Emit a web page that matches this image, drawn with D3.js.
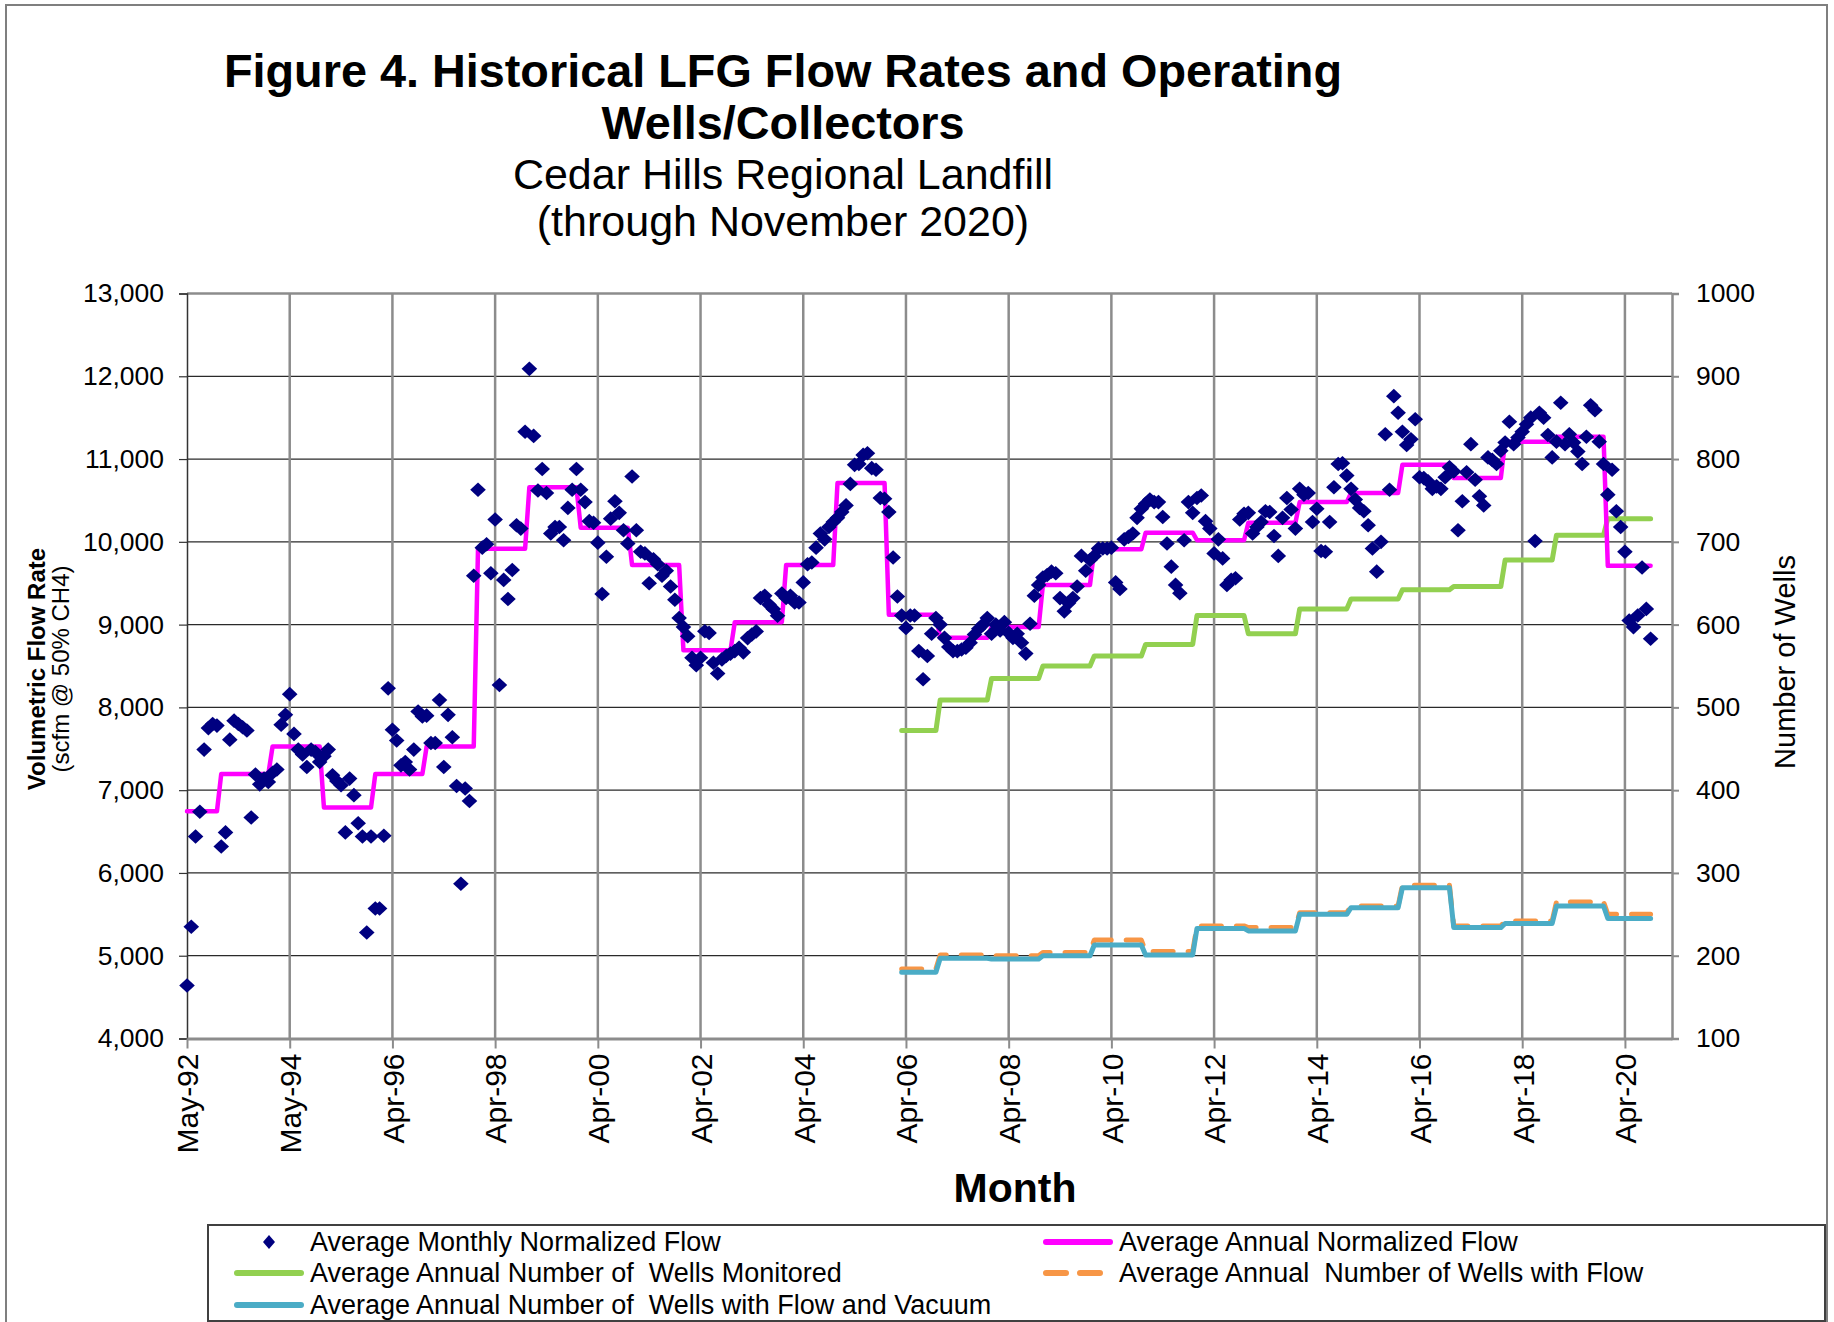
<!DOCTYPE html>
<html>
<head>
<meta charset="utf-8">
<script src="https://cdn.jsdelivr.net/npm/d3@7"></script>
<style>
  body { margin: 0; background: #fff; }
  svg { font-family: "Liberation Sans", Arial, sans-serif; }
</style>
</head>
<body>
<div id="chart-area"></div>
<script>
// monthly normalized flow (scfm), one value per month from May-92 to Nov-20
const monthlyFlow = [
  4640, 5350, 6440, 6740, 7490, 7750, 7800, 7780,
  6320, 6490, 7610, 7840, 7800, 7760, 7720, 6670, 7190, 7070, 7140, 7100,
  7210, 7250, 7790, 7910, 8160, 7680, 7490, 7430, 7280, 7490, 7460, 7340,
  7410, 7490, 7180, 7110, 7060, 6490, 7140, 6940, 6600, 6440, 5280, 6440,
  5570, 5570, 6450, 8230, 7730, 7600, 7300, 7340, 7250, 7490, 7950, 7890,
  7900, 7570, 7570, 8090, 7280, 7910, 7640, 7050, 5870, 7020, 6870, 9590,
  10630, 9930, 9970, 9620, 10270, 8270, 9540, 9310, 9660, 10200, 10160, 11330,
  12090, 11280, 10620, 10880, 10590, 10100, 10180, 10180, 10020, 10410, 10630, 10880,
  10630, 10480, 10250, 10230, 9990, 9370, 9820, 10280, 10490, 10350, 10140, 9980,
  10790, 10140, 9880, 9860, 9500, 9790, 9730, 9590, 9650, 9460, 9300, 9080,
  8970, 8860, 8600, 8510, 8600, 8920, 8900, 8540, 8410, 8580, 8620, 8650,
  8680, 8720, 8665, 8837, 8880, 8918, 9322, 9349, 9242, 9188, 9107, 9375,
  9322, 9349, 9268, 9268, 9510, 9730, 9750, 9930, 10100, 10030, 10180, 10240,
  10290, 10360, 10440, 10700, 10930, 10940, 11050, 11070, 10890, 10870, 10530, 10520,
  10360, 9810, 9340, 9110, 8960, 9110, 9110, 8680, 8340, 8620, 8890, 9080,
  9000, 8840, 8730, 8680, 8680, 8700, 8720, 8780, 8880, 8950, 9000, 9080,
  8890, 9000, 8930, 9030, 8900, 8840, 8890, 8780, 8650, 9010, 9350, 9480,
  9570, 9600, 9640, 9620, 9320, 9160, 9260, 9320, 9460, 9830, 9650, 9780,
  9830, 9920, 9920, 9920, 9930, 9510, 9430, 10030, 10060, 10100, 10290, 10400,
  10460, 10510, 10480, 10480, 10300, 9980, 9700, 9480, 9380, 10020, 10480, 10350,
  10530, 10560, 10250, 10160, 9860, 10030, 9800, 9480, 9540, 9560, 10270, 10340,
  10350, 10100, 10180, 10240, 10370, 10360, 10070, 9830, 10290, 10530, 10390, 10160,
  10640, 10570, 10590, 10240, 10400, 9890, 9880, 10240, 10660, 10940, 10950, 10800,
  10640, 10510, 10410, 10370, 10200, 9920, 9640, 10000, 11300, 10630, 11760, 11560,
  11330, 11170, 11240, 11480, 10780, 10770, 10730, 10640, 10670, 10640, 10780, 10900,
  10850, 10140, 10490, 10840, 11180, 10750, 10550, 10440, 11020, 10990, 10940, 11100,
  11200, 11450, 11180, 11260, 11330, 11420, 11500, 10010, 11560, 11500, 11290, 11020,
  11210, 11680, 11180, 11300, 11200, 11090, 10940, 11270, 11650, 11590, 11210, 10940,
  10570, 10870, 10370, 10180, 9880, 9050, 8970, 9110, 9690, 9190, 8830
]
const flowStart = "May-92"

// annual averages
const annualYears = [1992, 1993, 1994, 1995, 1996, 1997, 1998, 1999, 2000, 2001,
  2002, 2003, 2004, 2005, 2006, 2007, 2008, 2009, 2010, 2011,
  2012, 2013, 2014, 2015, 2016, 2017, 2018, 2019, 2020]
const annualFlow = [6745, 7195, 7528, 6790, 7195, 7528, 9915, 10660, 10170, 9720,
  8690, 9030, 9720, 10710, 9120, 8840, 8970, 9480, 9910, 10110,
  10020, 10230, 10480, 10590, 10930, 10770, 11210, 11270, 9710]

const wellsStart = "Apr-06"
const wellYears = [2006, 2007, 2008, 2009, 2010, 2011, 2012, 2013, 2014, 2015, 2016, 2017, 2018, 2019, 2020]
const wellsMonitored = [472, 509, 535, 550, 562, 576, 611, 589, 619, 631, 642, 646, 678, 708, 728]
const wellsWithFlow = [184, 201, 200, 204, 219, 205, 236, 234, 252, 260, 285, 236, 242, 265, 250]
const wellsFlowVacuum = [180, 197, 196, 200, 213, 201, 233, 230, 250, 258, 282, 234, 239, 260, 245]

// axis labels
const xTickLabels = ["May-92", "May-94", "Apr-96", "Apr-98", "Apr-00", "Apr-02", "Apr-04", "Apr-06",
  "Apr-08", "Apr-10", "Apr-12", "Apr-14", "Apr-16", "Apr-18", "Apr-20"]
const xTickEvery = 24
const xCategoryCount = 347
const leftTicks = [4000, 5000, 6000, 7000, 8000, 9000, 10000, 11000, 12000, 13000]
const rightTicks = [100, 200, 300, 400, 500, 600, 700, 800, 900, 1000]

const WIDTH = 1834
const HEIGHT = 1322
const PLOT = { LEFT: 187, RIGHT: 1672, TOP: 293.5, BOTTOM: 1038.5 }
const FONT_TICK = 26.5

const parseMonth = d3.timeParse("%b-%y")
const month0 = parseMonth(flowStart)
const lastIdx = monthlyFlow.length - 1
function monthIndex(date) { return d3.timeMonth.count(month0, date) }

const svg = d3.select("#chart-area").append("svg")
  .attr("width", WIDTH)
  .attr("height", HEIGHT)

svg.append("rect")
  .attr("width", WIDTH).attr("height", HEIGHT)
  .attr("fill", "#fff")

// outer frame
svg.append("rect")
  .attr("x", 6).attr("y", 5)
  .attr("width", 1821).attr("height", 1330)
  .attr("fill", "none")
  .attr("stroke", "#7f7f7f")
  .attr("stroke-width", 2)

const x = d3.scaleLinear()
  .domain([0, xCategoryCount])
  .range([PLOT.LEFT, PLOT.RIGHT])

const y = d3.scaleLinear()
  .domain([4000, 13000])
  .range([PLOT.BOTTOM, PLOT.TOP])

const y2 = d3.scaleLinear()
  .domain([100, 1000])
  .range([PLOT.BOTTOM, PLOT.TOP])

// horizontal gridlines
svg.append("g")
  .selectAll("line")
  .data(leftTicks.slice(1))
  .enter().append("line")
    .attr("x1", PLOT.LEFT).attr("x2", PLOT.RIGHT)
    .attr("y1", function(d) { return y(d) })
    .attr("y2", function(d) { return y(d) })
    .attr("stroke", d => d === 13000 ? "#8c8c8c" : "#2a2a2a")
    .attr("stroke-width", d => d === 13000 ? 2.5 : 1.2)

// vertical gridlines
const xTickValues = xTickLabels.map((d, i) => i * xTickEvery)
svg.append("g")
  .selectAll("line")
  .data(xTickValues.slice(1))
  .enter().append("line")
    .attr("x1", d => x(d)).attr("x2", d => x(d))
    .attr("y1", PLOT.TOP).attr("y2", PLOT.BOTTOM)
    .attr("stroke", "#8c8c8c")
    .attr("stroke-width", 2.5)

// left axis
const yAxisCall = d3.axisLeft(y)
  .tickValues(leftTicks)
  .tickFormat(d3.format(","))
  .tickSize(8)
  .tickPadding(15)
const gy = svg.append("g")
  .attr("transform", "translate(" + PLOT.LEFT + ",0)")
  .call(yAxisCall)
gy.select(".domain").attr("stroke", "#333").attr("stroke-width", 1.5)
gy.selectAll(".tick line").attr("stroke", "#333").attr("stroke-width", 1.2)
gy.selectAll("text").attr("font-size", FONT_TICK + "px").attr("fill", "#000")
  .attr("font-family", "Liberation Sans, Arial, sans-serif")

// right axis
const y2AxisCall = d3.axisRight(y2)
  .tickValues(rightTicks)
  .tickFormat(d3.format("d"))
  .tickSize(7)
  .tickPadding(17)
const gy2 = svg.append("g")
  .attr("transform", "translate(" + PLOT.RIGHT + ",0)")
  .call(y2AxisCall)
gy2.select(".domain").attr("stroke", "#8c8c8c").attr("stroke-width", 2.5)
gy2.selectAll(".tick line").attr("stroke", "#8c8c8c").attr("stroke-width", 2)
gy2.selectAll("text").attr("font-size", FONT_TICK + "px").attr("fill", "#000")
  .attr("font-family", "Liberation Sans, Arial, sans-serif")

// bottom axis
const xAxisCall = d3.axisBottom(x)
  .tickValues(xTickValues)
  .tickFormat((d, i) => xTickLabels[i])
  .tickSize(10)
  .tickSizeOuter(0)
const gx = svg.append("g")
  .attr("transform", "translate(0," + PLOT.BOTTOM + ")")
  .call(xAxisCall)
gx.select(".domain").attr("stroke", "#8c8c8c").attr("stroke-width", 3)
gx.selectAll(".tick line").attr("stroke", "#8c8c8c").attr("stroke-width", 2)
gx.selectAll("text")
  .attr("font-size", "30px")
  .attr("fill", "#000")
  .attr("font-family", "Liberation Sans, Arial, sans-serif")
  .attr("text-anchor", "end")
  .attr("transform", "rotate(-90)")
  .attr("x", -15)
  .attr("y", 0)
  .attr("dy", "0.36em")

// annual step series
function annualPoints(years, values, firstIdx) {
  const pts = []
  years.forEach(function(yr, i) {
    const s = Math.max(firstIdx, monthIndex(new Date(yr, 0, 1)))
    const e = Math.min(lastIdx, monthIndex(new Date(yr, 11, 1)))
    pts.push([s, values[i]])
    pts.push([e, values[i]])
  })
  return pts
}

const wellsIdx = monthIndex(parseMonth(wellsStart))
const lineLeft = d3.line().x(d => x(d[0])).y(d => y(d[1]))
const lineRight = d3.line().x(d => x(d[0])).y(d => y2(d[1]))

const plotLines = svg.append("g")
  .attr("fill", "none")
  .attr("stroke-linejoin", "round")
  .attr("stroke-linecap", "round")

plotLines.append("path")
  .attr("d", lineRight(annualPoints(wellYears, wellsWithFlow, wellsIdx)))
  .attr("stroke", "#f79646")
  .attr("stroke-width", 5)
  .attr("stroke-dasharray", "20,15")

plotLines.append("path")
  .attr("d", lineRight(annualPoints(wellYears, wellsFlowVacuum, wellsIdx)))
  .attr("stroke", "#4bacc6")
  .attr("stroke-width", 5)

plotLines.append("path")
  .attr("d", lineRight(annualPoints(wellYears, wellsMonitored, wellsIdx)))
  .attr("stroke", "#92d050")
  .attr("stroke-width", 5)

plotLines.append("path")
  .attr("d", lineLeft(annualPoints(annualYears, annualFlow, 0)))
  .attr("stroke", "#ff00ff")
  .attr("stroke-width", 4.5)

// monthly diamonds
const diamond = "M0,-7.3L7.8,0L0,7.3L-7.8,0Z"
svg.append("g")
  .selectAll("path")
  .data(monthlyFlow)
  .enter().append("path")
    .attr("d", diamond)
    .attr("transform", (d, i) => "translate(" + x(i) + "," + y(d) + ")")
    .attr("fill", "#000080")

// titles
const titles = [
  { t: "Figure 4. Historical LFG Flow Rates and Operating", y: 87, size: 46.8, bold: true },
  { t: "Wells/Collectors", y: 139, size: 46.8, bold: true },
  { t: "Cedar Hills Regional Landfill", y: 189, size: 43, bold: false },
  { t: "(through November 2020)", y: 236, size: 43, bold: false }
]
svg.append("g")
  .selectAll("text")
  .data(titles)
  .enter().append("text")
    .attr("x", 783)
    .attr("y", d => d.y)
    .attr("text-anchor", "middle")
    .attr("font-size", d => d.size + "px")
    .attr("font-weight", d => d.bold ? "bold" : "normal")
    .text(d => d.t)

// Y labels
svg.append("text")
  .attr("transform", "translate(45,669) rotate(-90)")
  .attr("text-anchor", "middle")
  .attr("font-size", "24px")
  .attr("font-weight", "bold")
  .text("Volumetric Flow Rate")

svg.append("text")
  .attr("transform", "translate(69,669) rotate(-90)")
  .attr("text-anchor", "middle")
  .attr("font-size", "24px")
  .text("(scfm @ 50% CH4)")

svg.append("text")
  .attr("transform", "translate(1795,662) rotate(-90)")
  .attr("text-anchor", "middle")
  .attr("font-size", "29px")
  .text("Number of Wells")

// X label
svg.append("text")
  .attr("x", 1015)
  .attr("y", 1202)
  .attr("text-anchor", "middle")
  .attr("font-size", "41px")
  .attr("font-weight", "bold")
  .text("Month")

// legend
svg.append("rect")
  .attr("x", 208).attr("y", 1225)
  .attr("width", 1617).attr("height", 96)
  .attr("fill", "#fff")
  .attr("stroke", "#404040")
  .attr("stroke-width", 2)

const legendItems = [
  { label: "Average Monthly Normalized Flow", type: "diamond", color: "#000080", x: 234, y: 1242 },
  { label: "Average Annual Normalized Flow", type: "line", color: "#ff00ff", x: 1043, y: 1242 },
  { label: "Average Annual Number of  Wells Monitored", type: "line", color: "#92d050", x: 234, y: 1273 },
  { label: "Average Annual  Number of Wells with Flow", type: "dash", color: "#f79646", x: 1043, y: 1273 },
  { label: "Average Annual Number of  Wells with Flow and Vacuum", type: "line", color: "#4bacc6", x: 234, y: 1305 }
]

const legend = svg.append("g")
legendItems.forEach(function(d) {
  const g = legend.append("g").attr("transform", "translate(" + d.x + "," + d.y + ")")
  if (d.type === "diamond") {
    g.append("path")
      .attr("d", "M0,-7L6,0L0,7L-6,0Z")
      .attr("transform", "translate(35,0)")
      .attr("fill", d.color)
  } else {
    g.append("line")
      .attr("x1", 3).attr("x2", 67)
      .attr("stroke", d.color)
      .attr("stroke-width", 6)
      .attr("stroke-linecap", "round")
      .attr("stroke-dasharray", d.type === "dash" ? "20,14" : null)
  }
  g.append("text")
    .attr("x", 76)
    .attr("y", 0)
    .attr("dy", "0.35em")
    .attr("font-size", "27px")
    .style("white-space", "pre")
    .text(d.label)
})
</script>
</body>
</html>
